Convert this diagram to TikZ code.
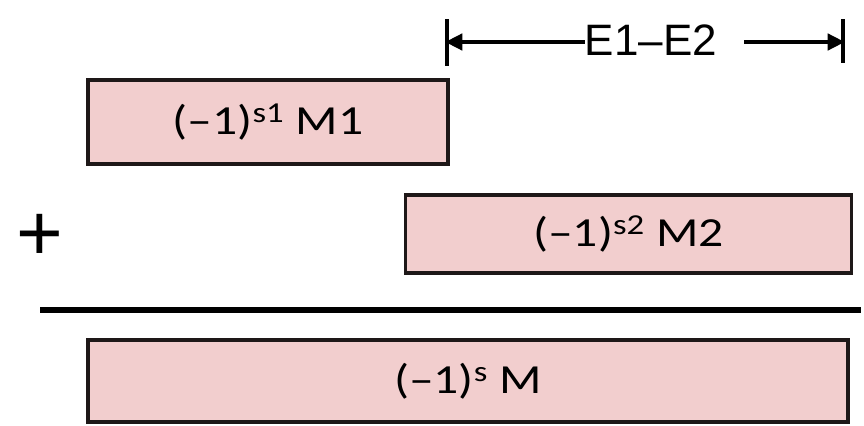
\documentclass[tikz,border=0pt]{standalone}
\usepackage{fontspec}
\usepackage{graphicx}
\setmainfont{Carlito}
\newfontfamily\arialf{Liberation Sans}
\usetikzlibrary{arrows.meta}
\definecolor{boxfill}{RGB}{242,206,206}
\definecolor{boxline}{RGB}{30,24,24}
\newcommand{\widetext}[1]{\scalebox{1.2}[1]{#1}}
\begin{document}
\begin{tikzpicture}[x=0.75pt,y=-0.75pt,
  mbox/.style={draw=boxline,line width=2.4pt,fill=boxfill,rectangle,inner sep=0pt,
    font=\fontsize{31}{34}\selectfont},
  dimline/.style={line width=3.6pt,-{Triangle[length=13pt,width=12pt]}},
  bar/.style={line width=3.4pt}]
\useasboundingbox (0,0) rectangle (864,425);
% boxes
\node[mbox,minimum width=270pt,minimum height=63pt] (b1) at (268,122) {\widetext{(–1)\textsuperscript{s1} M1}};
\node[mbox,minimum width=335pt,minimum height=58.5pt] (b2) at (628.5,234) {\widetext{(–1)\textsuperscript{s2} M2}};
\node[mbox,minimum width=570pt,minimum height=61.5pt] (b3) at (468,381) {\widetext{(–1)\textsuperscript{s} M}};
% plus sign
\node[font=\arialf\fontsize{60}{64}\selectfont,inner sep=0pt] (plus) at (40,237) {+};
% rule
\coordinate (r1) at (40,310);
\coordinate (r2) at (861,310);
\draw[line width=3.8pt] (r1) -- (r2);
% dimension
\coordinate (lt) at (447,19);
\coordinate (lb) at (447,66);
\coordinate (rt) at (843,19);
\coordinate (rb) at (843,63);
\coordinate (la) at (445,42);
\coordinate (ra) at (845,42);
\coordinate (rs) at (744,42);
\draw[bar] (lt) -- (lb);
\draw[bar] (rt) -- (rb);
\node[font=\arialf\fontsize{33}{36}\selectfont,inner sep=0pt] (e) at (651,40) {E1–E2};
\draw[dimline] (e.west |- la) -- (la);
\draw[dimline] (rs) -- (ra);
\end{tikzpicture}
\end{document}
